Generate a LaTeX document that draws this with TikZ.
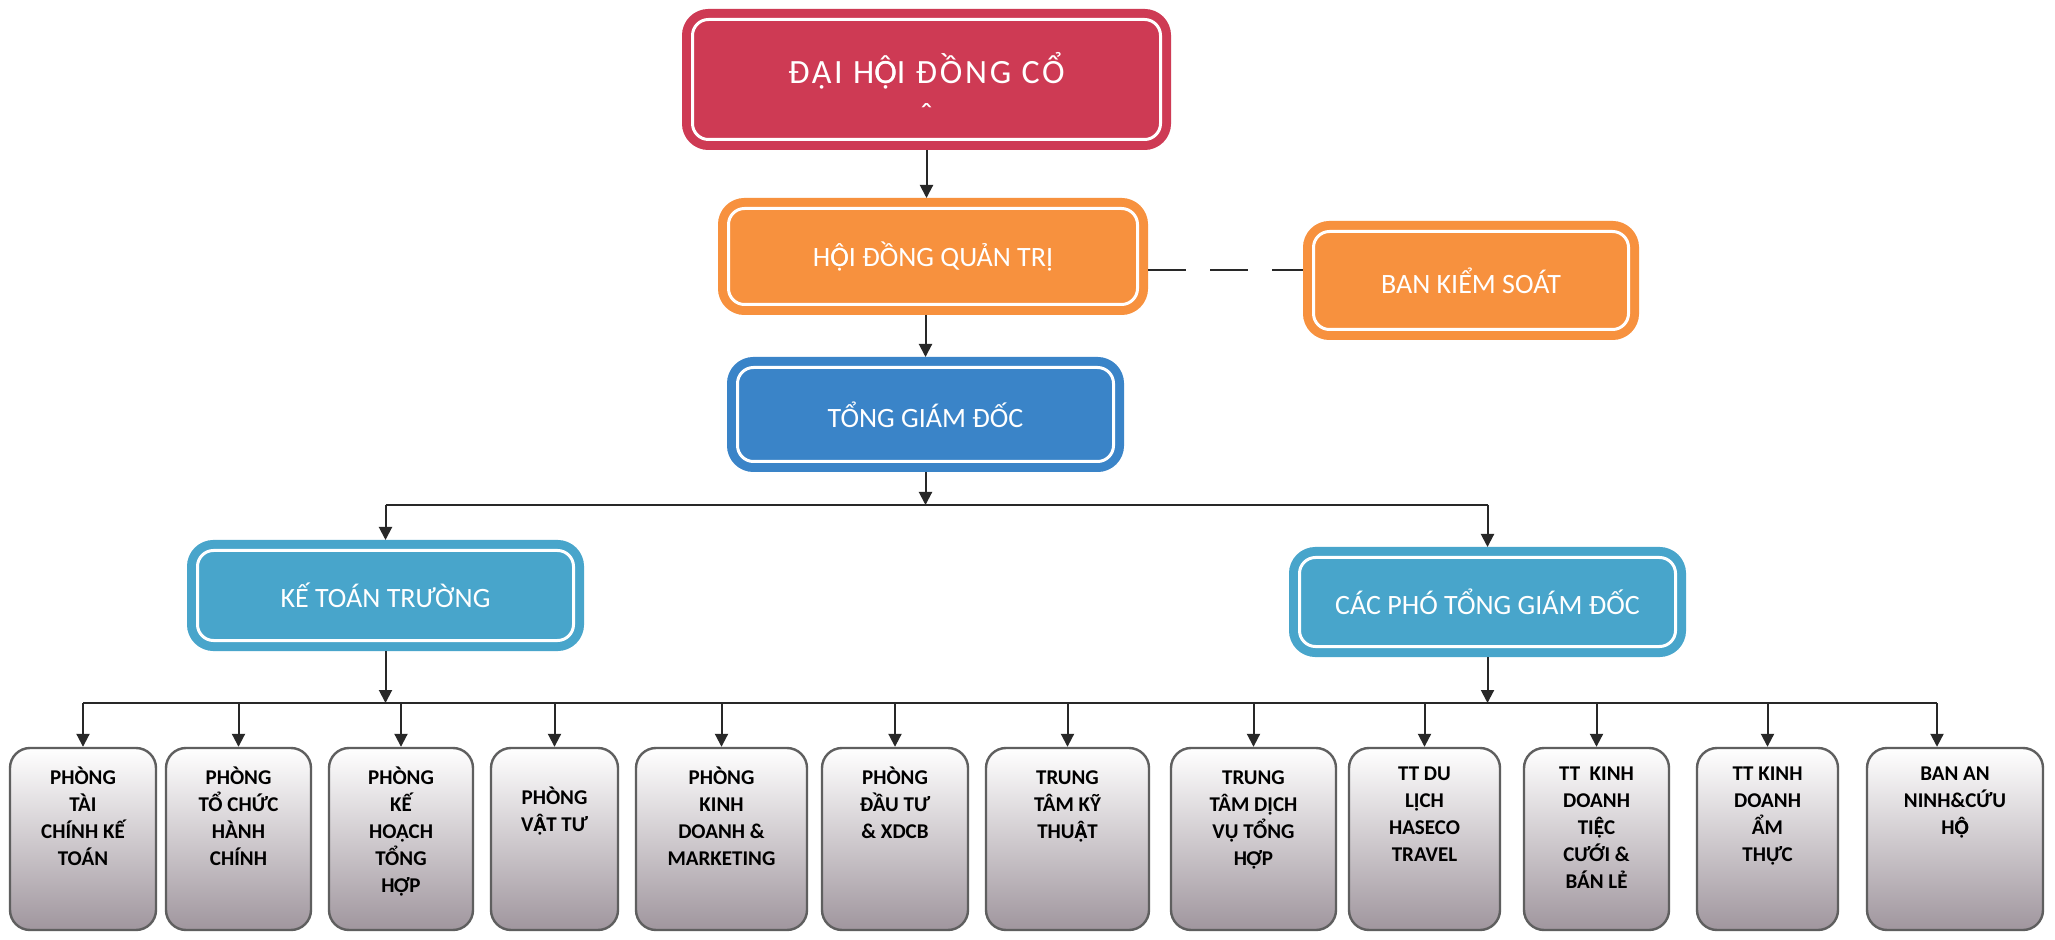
\documentclass[tikz,border=0pt]{standalone}
\usepackage{fontspec}
\setmainfont{Carlito}
\newfontfamily\topfont[LetterSpace=8]{Carlito}
\usetikzlibrary{arrows.meta}
\definecolor{dhred}{RGB}{206,58,84}
\definecolor{qtorange}{RGB}{247,145,62}
\definecolor{gdblue}{RGB}{58,132,200}
\definecolor{kttteal}{RGB}{72,165,203}
\definecolor{unitgray}{RGB}{160,150,158}
\definecolor{unitedge}{RGB}{95,95,95}
\definecolor{linkgray}{RGB}{40,40,40}
% letters with circumflex and dot below
\newcommand{\Ocd}{\ooalign{Ô\cr Ọ}}
\newcommand{\Acd}{\ooalign{Â\cr Ạ}}
\newcommand{\Ecd}{\ooalign{Ê\cr Ẹ}}

\begin{document}
\begin{tikzpicture}[x=0.5pt,y=-0.5pt]
\tikzstyle{every node}+=[inner sep=0pt]
\tikzstyle{head}=[rectangle, rounded corners=8pt, double=white, line width=4.5pt, double distance=1.5pt, outer sep=5.25pt, text=white, align=center, font=\fontsize{14}{17}\selectfont]
\tikzstyle{unit}=[rectangle, rounded corners=10pt, draw=unitedge, line width=1.2pt, top color=white, bottom color=unitgray, minimum height=91pt]
\tikzstyle{unittext}=[align=center, anchor=north, font=\bfseries\fontsize{10.5}{13.4}\selectfont, execute at begin node=\rule{0pt}{10pt}]
\tikzstyle{arr}=[draw=linkgray, line width=1pt, -{Triangle[length=6.5pt,width=6.5pt]}]
\tikzstyle{bus}=[draw=linkgray, line width=1pt]
\path[use as bounding box, fill=white] (0,0) rectangle (2055,940);

% management
\node[head, fill=dhred, draw=dhred, minimum width=234pt, minimum height=60pt, font=\topfont\fontsize{17}{21.5}\selectfont] (dh) at (926.5,79.5) {\rule{0pt}{26pt}ĐẠI H\Ocd I ĐỒNG CỔ\\ˆ};
\node[head, fill=qtorange, draw=qtorange, minimum width=204.5pt, minimum height=48pt] (hdqt) at (933,256.5) {H\Ocd I ĐỒNG QUẢN TRỊ};
\node[head, fill=qtorange, draw=qtorange, minimum width=157.5pt, minimum height=49pt] (bks) at (1471,280.5) {BAN KIỂM SOÁT};
\node[head, fill=gdblue, draw=gdblue, minimum width=188pt, minimum height=47pt] (tgd) at (925.5,414.5) {TỔNG GIÁM ĐỐC};
\node[head, fill=kttteal, draw=kttteal, minimum width=188pt, minimum height=45pt] (ktt) at (385.5,595.5) {KẾ TOÁN TRƯỜNG};
\node[head, fill=kttteal, draw=kttteal, minimum width=188pt, minimum height=44.5pt] (pho) at (1487.5,602) {CÁC PHÓ TỔNG GIÁM ĐỐC};

% units
\node[unit, minimum width=73pt] (u1) at (83,839) {};
\node[unit, minimum width=72.5pt] (u2) at (238.5,839) {};
\node[unit, minimum width=72pt] (u3) at (401,839) {};
\node[unit, minimum width=63.5pt] (u4) at (554.5,839) {};
\node[unit, minimum width=85.5pt] (u5) at (721.5,839) {};
\node[unit, minimum width=73pt] (u6) at (895,839) {};
\node[unit, minimum width=81.5pt] (u7) at (1067.5,839) {};
\node[unit, minimum width=82.5pt] (u8) at (1253.5,839) {};
\node[unit, minimum width=75.5pt] (u9) at (1424.5,839) {};
\node[unit, minimum width=72.5pt] (u10) at (1596.5,839) {};
\node[unit, minimum width=70.5pt] (u11) at (1767.5,839) {};
\node[unit, minimum width=88pt] (u12) at (1955,839) {};

\node[unittext] (t1) at ([yshift=-10pt]u1.north) {PHÒNG\\TÀI\\CHÍNH KẾ\\TOÁN};
\node[unittext] (t2) at ([yshift=-10pt]u2.north) {PHÒNG\\TỔ CHỨC\\HÀNH\\CHÍNH};
\node[unittext] (t3) at ([yshift=-10pt]u3.north) {PHÒNG\\KẾ\\HOẠCH\\TỔNG\\HỢP};
\node[unittext] (t4) at ([yshift=-20pt]u4.north) {PHÒNG\\V\Acd T TƯ};
\node[unittext] (t5) at ([yshift=-10pt]u5.north) {PHÒNG\\KINH\\DOANH \&\\MARKETING};
\node[unittext] (t6) at ([yshift=-10pt]u6.north) {PHÒNG\\ĐẦU TƯ\\\& XDCB};
\node[unittext] (t7) at ([yshift=-12pt]u7.north) {TRUNG\\TÂM KỸ\\THU\Acd T};
\node[unittext] (t8) at ([yshift=-12pt]u8.north) {TRUNG\\TÂM DỊCH\\VỤ TỔNG\\HỢP};
\node[unittext] (t9) at ([yshift=-10pt]u9.north) {TT DU\\LỊCH\\HASECO\\TRAVEL};
\node[unittext] (t10) at ([yshift=-10pt]u10.north) {TT\ \ KINH\\DOANH\\TI\Ecd C\\CƯỚI \&\\BÁN LẺ};
\node[unittext] (t11) at ([yshift=-10pt]u11.north) {TT KINH\\DOANH\\ẨM\\THỰC};
\node[unittext] (t12) at ([yshift=-10pt]u12.north) {BAN AN\\NINH\&CỨU\\H\Ocd};

% links
\coordinate (busA) at (0,505);
\coordinate (busB) at (0,703);
\draw[arr] (dh.south) -- (dh.south |- hdqt.north);
\draw[arr] (tgd.north |- hdqt.south) -- (tgd.north);
\draw[draw=linkgray, line width=1pt, dash pattern=on 19pt off 12pt] ([yshift=-7pt]hdqt.east) -- ([yshift=-7pt]hdqt.east -| bks.west);
\draw[arr] (tgd.south) -- (tgd.south |- busA);
\draw[bus] (ktt.north |- busA) -- (pho.north |- busA);
\draw[arr] (ktt.north |- busA) -- (ktt.north);
\draw[arr] (pho.north |- busA) -- (pho.north);
\draw[arr] (ktt.south) -- (ktt.south |- busB);
\draw[arr] (pho.south) -- (pho.south |- busB);
\draw[bus] (u1.north |- busB) -- ([xshift=-9pt]u12.north |- busB);
\draw[arr] (u1.north |- busB) -- (u1.north);
\draw[arr] (u2.north |- busB) -- (u2.north);
\draw[arr] (u3.north |- busB) -- (u3.north);
\draw[arr] (u4.north |- busB) -- (u4.north);
\draw[arr] (u5.north |- busB) -- (u5.north);
\draw[arr] (u6.north |- busB) -- (u6.north);
\draw[arr] (u7.north |- busB) -- (u7.north);
\draw[arr] (u8.north |- busB) -- (u8.north);
\draw[arr] (u9.north |- busB) -- (u9.north);
\draw[arr] (u10.north |- busB) -- (u10.north);
\draw[arr] (u11.north |- busB) -- (u11.north);
\draw[arr] ([xshift=-9pt]u12.north |- busB) -- ([xshift=-9pt]u12.north);
\end{tikzpicture}
\end{document}
